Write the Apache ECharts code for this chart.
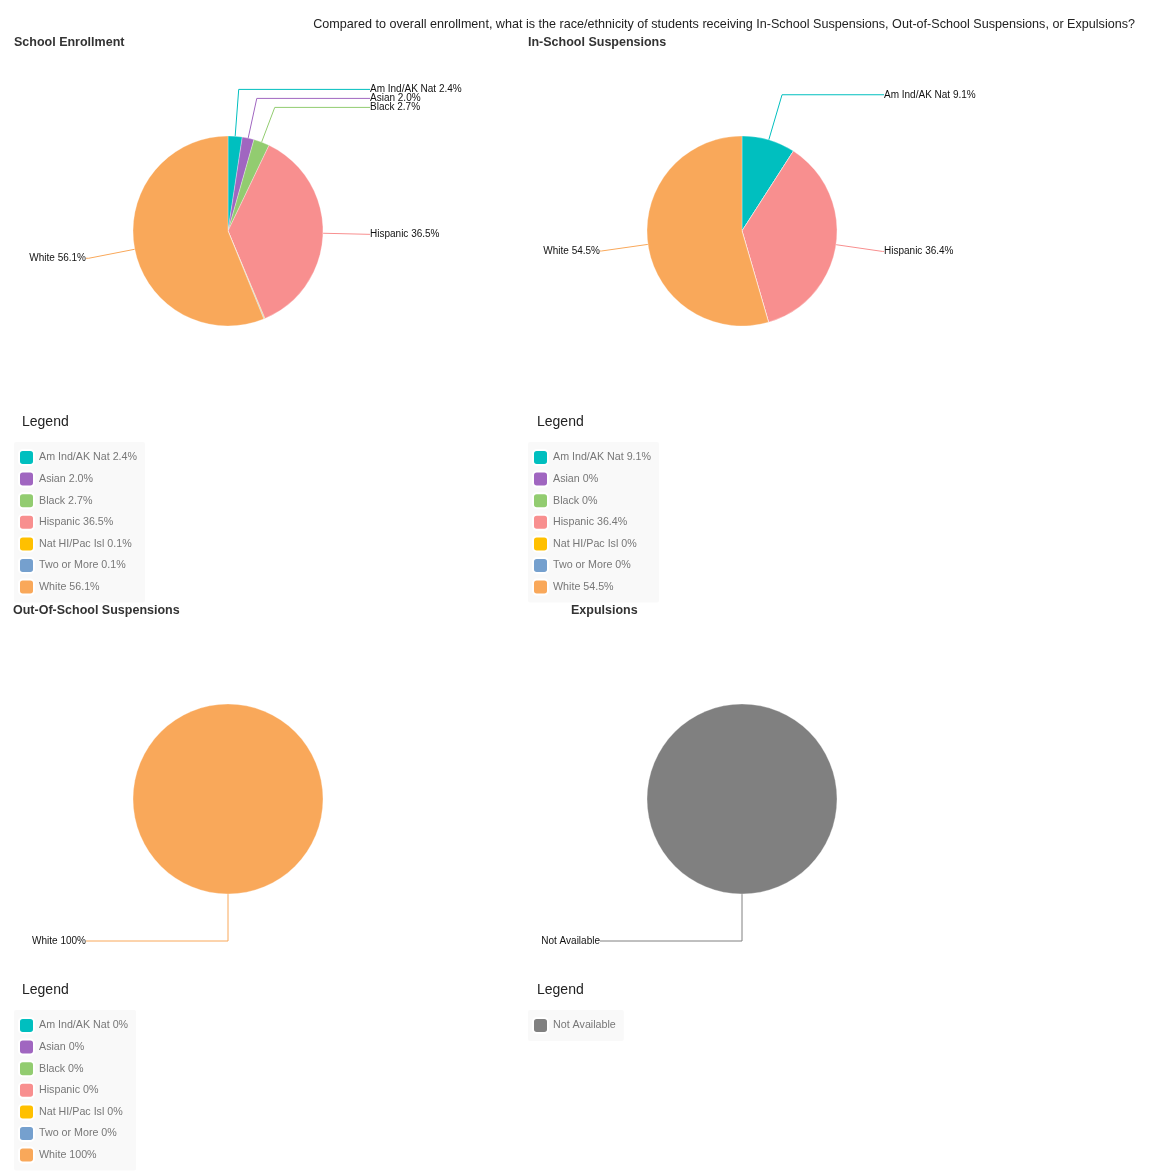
<!DOCTYPE html>
<html>
<head>
<meta charset="utf-8">
<title>Discipline by race/ethnicity</title>
<script src="https://cdn.jsdelivr.net/npm/echarts/dist/echarts.min.js"></script>
<style>
  html, body { margin: 0; padding: 0; background: #fff; }
  #main { width: 1163px; height: 1176px; }
</style>
</head>
<body>
<div id="main"></div>
<script>
// 数据
var groups = ['Am Ind/AK Nat', 'Asian', 'Black', 'Hispanic', 'Nat HI/Pac Isl', 'Two or More', 'White'];
var colors = ['#00bfbf', '#a066c0', '#92cc70', '#f88f8f', '#ffc000', '#75a0ce', '#f9a85a'];
var enrollment = [2.4, 2.0, 2.7, 36.5, 0.1, 0.1, 56.1];
var inSchool = [9.1, 0, 0, 36.4, 0, 0, 54.5];
var outSchool = [0, 0, 0, 0, 0, 0, 100];
var naNames = ['Not Available'];
var naValues = [100];
var naColors = ['#808080'];

var question = 'Compared to overall enrollment, what is the race/ethnicity of students receiving In-School Suspensions, Out-of-School Suspensions, or Expulsions?';
var font = '"Liberation Sans", Arial, sans-serif';
var R = 95, LEN = 47, GAP = 9, MIN_ANGLE = 3;

function fmt(v) {
    return (v === 0 || v === 100) ? String(v) : v.toFixed(1);
}

function pieData(names, vals, cols) {
    return vals.map(function (v, i) {
        return { name: names[i], value: v, itemStyle: { color: cols[i] } };
    });
}

// 标签纵向位置：沿半径的自然位置，重叠时依次下移
function labelYs(vals, cy) {
    var total = 0, acc = 0, ys = [], right = [], left = [];
    vals.forEach(function (v) { total += v; });
    vals.forEach(function (v, i) {
        var a = (acc + v / 2) / total * 2 * Math.PI;
        acc += v;
        ys[i] = cy - (R + LEN) * Math.cos(a);
        if (v / total * 360 < MIN_ANGLE) return;
        (Math.sin(a) > 0.001 ? right : left).push(i);
    });
    [right, left].forEach(function (side) {
        side.sort(function (a, b) { return ys[a] - ys[b]; });
        for (var k = 1; k < side.length; k++) {
            ys[side[k]] = Math.max(ys[side[k]], ys[side[k - 1]] + GAP);
        }
    });
    return ys;
}

function pieSeries(data, vals, center, withPct) {
    var ys = labelYs(vals, center[1]);
    return {
        type: 'pie',
        radius: R,
        center: center,
        startAngle: 90,
        clockwise: true,
        data: data,
        minShowLabelAngle: MIN_ANGLE,
        avoidLabelOverlap: false,
        itemStyle: { borderColor: '#fff', borderWidth: 0.3 },
        emphasis: { scale: false },
        label: {
            show: true,
            position: 'outside',
            fontSize: 10,
            color: '#111',
            fontFamily: font,
            distanceToLabelLine: 0,
            formatter: function (p) {
                return withPct ? p.name + ' ' + fmt(p.value) + '%' : p.name;
            }
        },
        labelLine: { show: true, length: LEN, length2: 1, lineStyle: { width: 1 } },
        // 引线：先沿半径方向，再水平延伸到固定位置
        labelLayout: function (p) {
            var pts = p.labelLinePoints;
            if (!pts) return {};
            var cx = center[0], cy = center[1];
            var p0 = pts[0];
            var dx = (p0[0] - cx) / R, dy = (p0[1] - cy) / R;
            var y = ys[p.dataIndex];
            var isLeft = pts[1][0] < cx + 1;
            var endX = isLeft ? cx - 142 : cx + 142;
            var elbow = [p0[0] + dx * LEN, p0[1] + dy * LEN];
            if (Math.abs(elbow[1] - y) > 0.5 && Math.abs(dy) > 0.3) {
                var t = (y - p0[1]) / dy;
                if (t > 0) elbow = [p0[0] + dx * t, y];
            }
            elbow[1] = y;
            if (!isLeft) endX = Math.max(endX, elbow[0]);
            return {
                x: endX,
                y: y,
                align: isLeft ? 'right' : 'left',
                verticalAlign: 'middle',
                labelLinePoints: [p0, elbow, [endX, y]]
            };
        }
    };
}

function headTitle(text, left, top, bold, size) {
    return {
        text: text, left: left, top: top, padding: 0,
        textStyle: { fontSize: size, fontWeight: bold ? 'bold' : 'normal', color: bold ? '#333' : '#222', fontFamily: font }
    };
}

function legendOpt(left, top, names, vals) {
    return {
        left: left, top: top,
        orient: 'vertical',
        data: names,
        icon: 'roundRect',
        itemWidth: 15, itemHeight: 15, itemGap: 4.6,
        padding: [7, 8, 7, 4],
        backgroundColor: '#f9f9f9',
        borderRadius: 2,
        selectedMode: false,
        textStyle: { color: '#777', fontSize: 10.7, lineHeight: 13, fontFamily: font },
        formatter: function (name) {
            var i = names.indexOf(name);
            return vals ? name + ' ' + fmt(vals[i]) + '%' : name;
        }
    };
}

var myChart = echarts.init(document.getElementById('main'));

var option = {
    animation: false,
    textStyle: { fontFamily: font },
    title: [
        { text: question, right: 28, top: 18, padding: 0, textStyle: { fontSize: 12.6, fontWeight: 'normal', color: '#222', fontFamily: font } },
        headTitle('School Enrollment', 14, 36, true, 12.5),
        headTitle('In-School Suspensions', 528, 36, true, 12.5),
        headTitle('Out-Of-School Suspensions', 13, 604, true, 12.5),
        headTitle('Expulsions', 571, 604, true, 12.5),
        headTitle('Legend', 22, 415, false, 14),
        headTitle('Legend', 537, 415, false, 14),
        headTitle('Legend', 22, 983, false, 14),
        headTitle('Legend', 537, 983, false, 14)
    ],
    legend: [
        legendOpt(14, 442, groups, enrollment),
        legendOpt(528, 442, groups, inSchool),
        legendOpt(14, 1010, groups, outSchool),
        legendOpt(528, 1010, naNames, null)
    ],
    series: [
        pieSeries(pieData(groups, enrollment, colors), enrollment, [228, 231], true),
        pieSeries(pieData(groups, inSchool, colors), inSchool, [742, 231], true),
        pieSeries(pieData(groups, outSchool, colors), outSchool, [228, 799], true),
        pieSeries(pieData(naNames, naValues, naColors), naValues, [742, 799], false)
    ]
};

myChart.setOption(option);
</script>
</body>
</html>
